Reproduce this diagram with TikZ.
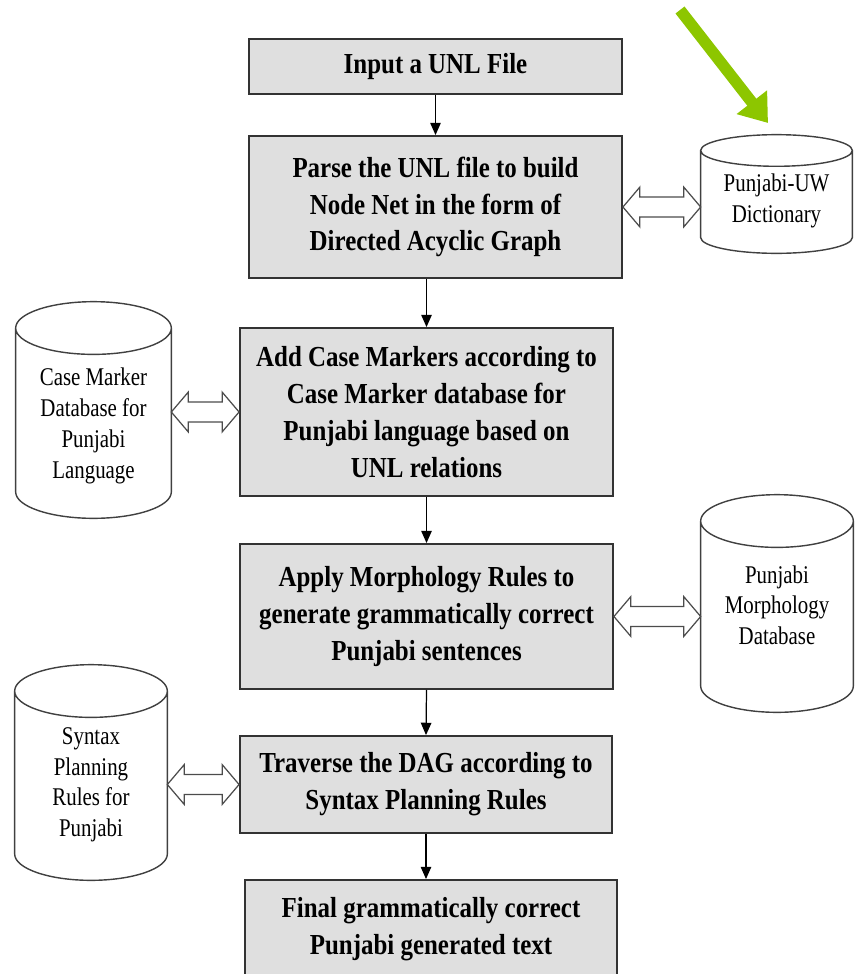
\documentclass[tikz,border=0pt]{standalone}
\usepackage{fontspec}
\usepackage{xcolor}
\usepackage{tikz}
\usetikzlibrary{arrows.meta,calc,positioning}
\newfontfamily\stepfont{Liberation Serif}[FakeStretch=0.86]
\newfontfamily\dbfont{Liberation Serif}[FakeStretch=0.82]
\definecolor{hintgreen}{RGB}{141,198,0}
\tikzset{
  stepbox/.style={draw=black!80, line width=1.1pt, fill=gray!25, align=center, inner sep=2pt,
    minimum width=7.46cm, font=\stepfont\bfseries\fontsize{16.5}{21}\selectfont},
  dbbox/.style={inner sep=0pt},
  dbtext/.style={align=center, inner sep=0pt, font=\dbfont\fontsize{14.5}{17.5}\selectfont},
  cylline/.style={draw=black!75, line width=0.8pt},
  flow/.style={draw=black, line width=0.7pt, -{Triangle[length=7pt,width=6pt]}},
  dblarr/.style={draw=black!70, line width=0.7pt, fill=white},
  hint/.style={draw=hintgreen, line width=6.5pt, -{Triangle[length=15pt,width=21pt]}}
}
% cylinder outline round a named node: #1 node, #2 height of the ellipse
\newcommand{\dbcyl}[2]{%
  \draw[cylline] let \p1=(#1.north west), \p2=(#1.south east), \n1={(\x2-\x1)/2} in
    (\x1,\y1-#2) -- (\x1,\y2+#2) arc[start angle=180,end angle=360,x radius={\n1*1pt},y radius=#2]
    -- (\x2,\y1-#2)
    (\x1+\n1*1pt,\y1-#2) ellipse[x radius={\n1*1pt},y radius=#2];
}
% hollow double arrow between two points at the same height
\newcommand{\dblarrow}[2]{%
  \draw[dblarr] #1 -- ++(9.6pt,11.3pt) -- ++(0,-5.6pt) -- ($#2+(-9.6pt,5.7pt)$) -- ++(0,5.6pt)
    -- #2 -- ++(-9.6pt,-11.3pt) -- ++(0,5.6pt) -- ($#1+(9.6pt,-5.7pt)$) -- ++(0,-5.6pt) -- cycle;
}

\begin{document}
\begin{tikzpicture}[x=0.02cm,y=0.02cm]

                \useasboundingbox (0,0) rectangle (855,-974);

                % Draw the steps.
                \node[stepbox, minimum height=1.1cm] (input) at (435.5,-66.5) {Input a UNL File};
                \node[stepbox, minimum height=2.84cm] (parse) at (435.5,-207)
                    {Parse the UNL file to build\\Node Net in the form of\\Directed Acyclic Graph};
                \node[stepbox, minimum height=3.36cm] (case) at (426.5,-412)
                    {Add Case Markers according to\\Case Marker database for\\Punjabi language based on\\UNL relations};
                \node[stepbox, minimum height=2.9cm] (morph) at (426.5,-616.5)
                    {Apply Morphology Rules to\\generate grammatically correct\\Punjabi sentences};
                \node[stepbox, minimum height=1.94cm, minimum width=7.44cm] (trav) at (426,-784.5)
                    {Traverse the DAG according to\\Syntax Planning Rules};
                \node[stepbox, minimum height=1.96cm, minimum width=7.44cm] (final) at (431,-929)
                    {Final grammatically correct\\Punjabi generated text};

                % Draw the databases.
                \node[dbbox, minimum width=3.02cm, minimum height=2.36cm,
                    label={[dbtext, yshift=-4pt]center:{Punjabi-UW\\Dictionary}}] (dict) at (776.5,-194) {};
                \node[dbbox, minimum width=3.1cm, minimum height=4.32cm,
                    label={[dbtext, yshift=-9pt]center:{Case Marker\\Database for\\Punjabi\\Language}}] (casedb) at (93.5,-410) {};
                \node[dbbox, minimum width=3.04cm, minimum height=4.34cm,
                    label={[dbtext, yshift=-1pt]center:{Punjabi\\Morphology\\Database}}] (morphdb) at (777,-603.5) {};
                \node[dbbox, minimum width=3.04cm, minimum height=4.3cm,
                    label={[dbtext, yshift=-7pt]center:{Syntax\\Planning\\Rules for\\Punjabi}}] (syntaxdb) at (91,-772.5) {};
                \dbcyl{dict}{9pt}
                \dbcyl{casedb}{15pt}
                \dbcyl{morphdb}{15pt}
                \dbcyl{syntaxdb}{15pt}

                % Flow between the steps.
                \draw[flow] (input.south) -- (parse.north);
                \draw[flow] (case.north |- parse.south) -- (case.north);
                \draw[flow] (case.south) -- (morph.north);
                \draw[flow] (morph.south) -- (trav.north);
                \draw[flow] (trav.south) -- (trav.south |- final.north);

                % Lookups in the databases.
                \dblarrow{(parse.east)}{(parse.east -| dict.west)}
                \dblarrow{(casedb.east |- case.west)}{(case.west)}
                \dblarrow{(morph.east)}{(morph.east -| morphdb.west)}
                \dblarrow{(syntaxdb.east |- trav.west)}{(trav.west)}

                % Green pointer.
                \coordinate (hinttail) at (680,-10);
                \coordinate (hinthead) at (768,-123);
                \draw[hint] (hinttail) -- (hinthead);
                \end{tikzpicture}
\end{document}
